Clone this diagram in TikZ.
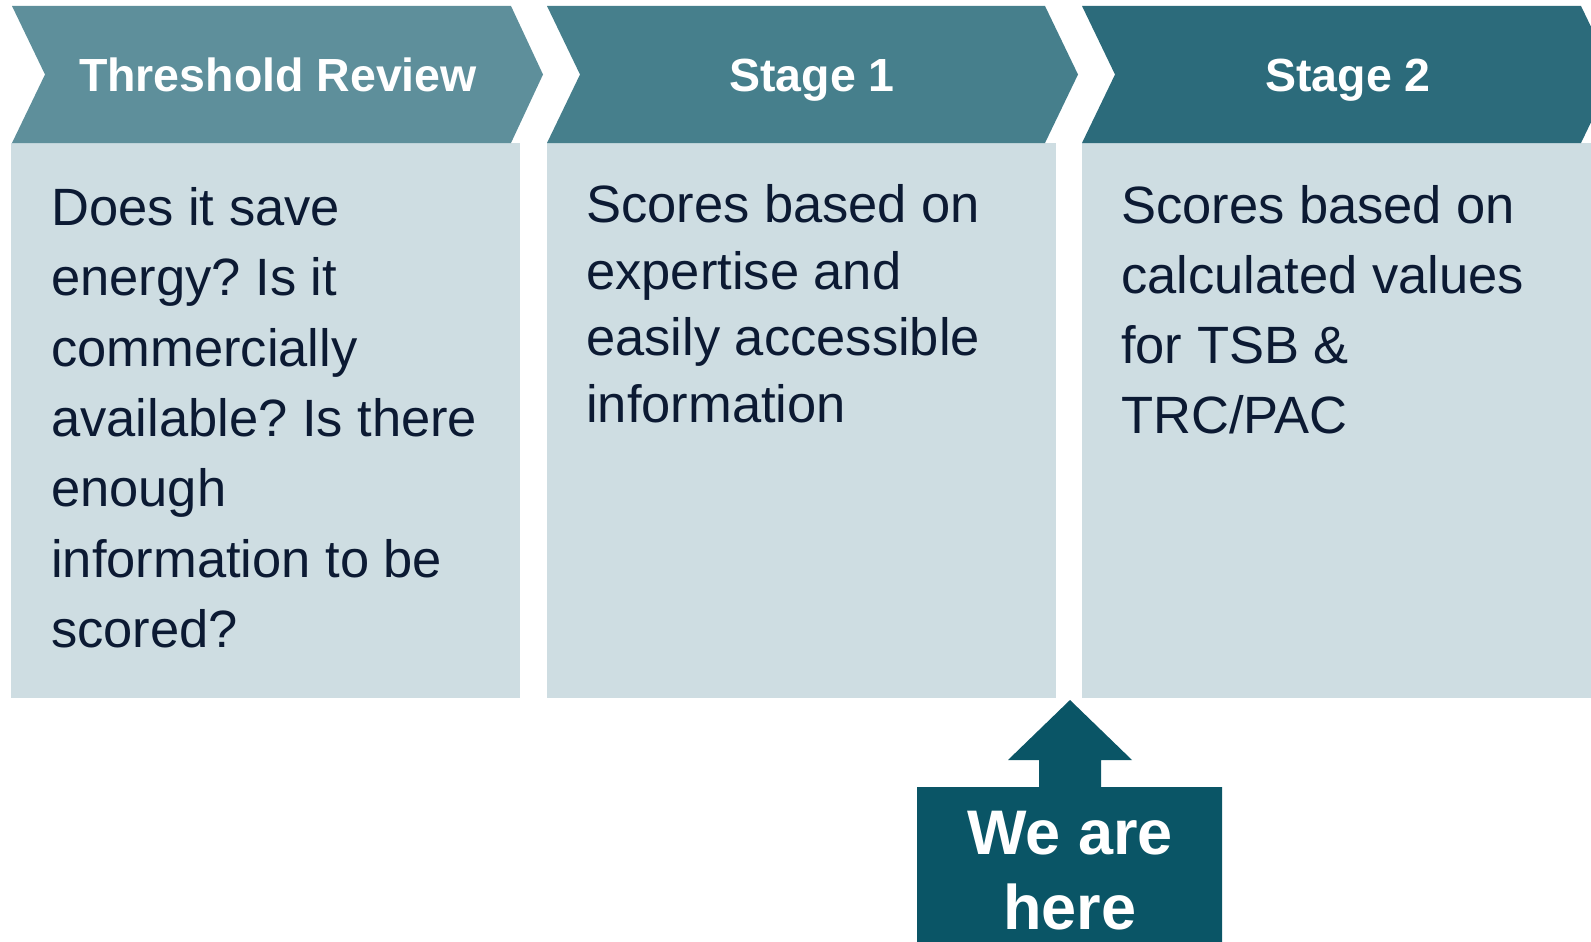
\documentclass[tikz,border=0pt]{standalone}
\usepackage{fontspec}
\setmainfont{Liberation Sans}
\frenchspacing
\definecolor{chevA}{HTML}{5E8F9B}
\definecolor{chevB}{HTML}{467F8C}
\definecolor{chevC}{HTML}{2C6B7B}
\definecolor{panel}{HTML}{CEDDE2}
\definecolor{callout}{HTML}{0A5566}
\definecolor{bodyink}{HTML}{0C1A33}
\begin{document}
\begin{tikzpicture}[x=1pt,y=-1pt,
  headtext/.style={text=white,font=\fontsize{46.5}{50}\selectfont\bfseries,anchor=base,inner sep=0pt},
  bodytext/.style={text=bodyink,font=\fontsize{52.5}{60}\selectfont,anchor=base west,inner sep=0pt},
  calltext/.style={text=white,font=\fontsize{63}{70}\selectfont\bfseries,anchor=base,inner sep=0pt},
  panelbox/.style={fill=panel,draw=none}]
\useasboundingbox (0,0) rectangle (1591,942);
\clip (0,0) rectangle (1591,942);

% content panels
\fill[panelbox] (11,143) rectangle (520,698);
\fill[panelbox] (547,143) rectangle (1056,698);
\fill[panelbox] (1082,143) rectangle (1591,698);

% chevron headers
\fill[chevA] (12,6) -- (511,6) -- (543,74.5) -- (511,143) -- (12,143) -- (45,74.5) -- cycle;
\fill[chevB] (547,6) -- (1045,6) -- (1078,74.5) -- (1045,143) -- (547,143) -- (580,74.5) -- cycle;
\fill[chevC] (1082,6) -- (1581,6) -- (1614,74.5) -- (1581,143) -- (1082,143) -- (1115,74.5) -- cycle;

\node[headtext] (h1) at (278,92) {Threshold Review};
\node[headtext] (h2) at (812,92) {Stage 1};
\node[headtext] (h3) at (1348,92) {Stage 2};

% panel texts
\node[bodytext] (a1) at (51,225) {Does it save};
\node[bodytext] (a2) at (51,295) {energy? Is it};
\node[bodytext] (a3) at (51,366) {commercially};
\node[bodytext] (a4) at (51,436) {available? Is there};
\node[bodytext] (a5) at (51,506) {enough};
\node[bodytext] (a6) at (51,577) {information to be};
\node[bodytext] (a7) at (51,647) {scored?};

\node[bodytext] (b1) at (586,222) {Scores based on};
\node[bodytext] (b2) at (586,289) {expertise and};
\node[bodytext] (b3) at (586,355) {easily accessible};
\node[bodytext] (b4) at (586,422) {information};

\node[bodytext] (c1) at (1121,223) {Scores based on};
\node[bodytext] (c2) at (1121,293) {calculated values};
\node[bodytext] (c3) at (1121,363) {for TSB \&};
\node[bodytext] (c4) at (1121,433) {TRC/PAC};

% "we are here" marker
\fill[callout] (1070,700) -- (1132,760) -- (1101,760) -- (1101,787)
  -- (1222,787) -- (1222,950) -- (917,950) -- (917,787) -- (1039,787)
  -- (1039,760) -- (1008,760) -- cycle;
\node[calltext] (w1) at (1070,854) {We are};
\node[calltext] (w2) at (1070,929) {here};
\end{tikzpicture}
\end{document}
